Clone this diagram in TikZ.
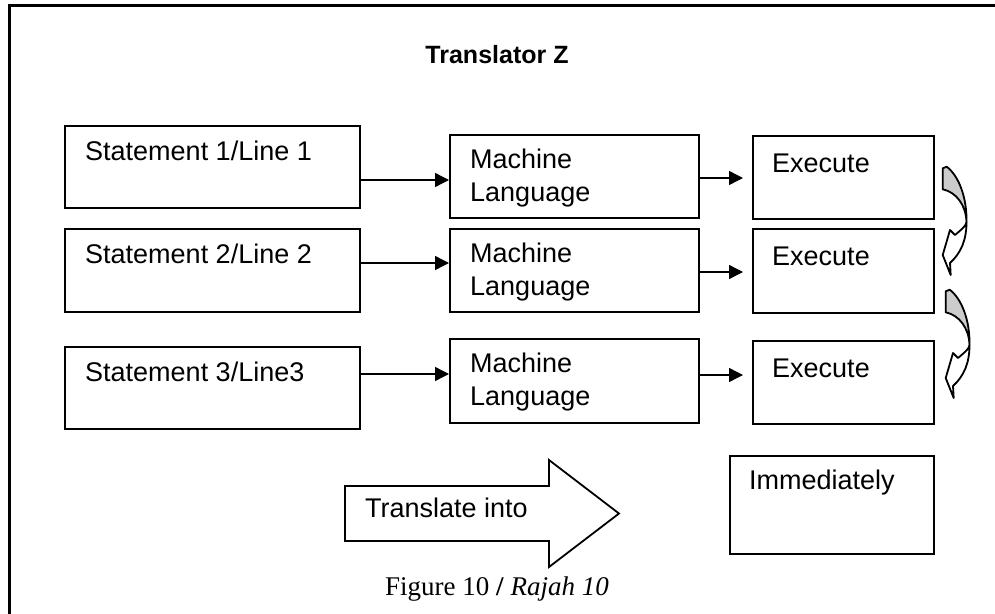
\documentclass[tikz,border=0pt]{standalone}
\usepackage{fontspec}
\setmainfont{Liberation Sans}
\newfontfamily\capfont{Liberation Serif}
\usetikzlibrary{arrows.meta,calc}
\begin{document}
\begin{tikzpicture}[x=1pt,y=-1pt,
  box/.style={draw,line width=2pt,rectangle,anchor=north west,inner sep=0pt},
  txt/.style={anchor=base west,inner sep=0pt,font=\fontsize{27}{33}\selectfont,align=left},
  arr/.style={line width=1.4pt,-{Triangle[length=14pt,width=14pt]}},
  curv/.style={line width=1.8pt,line join=round}]
\useasboundingbox (0,0) rectangle (995,613);
% outer frame
\draw[line width=3pt] (9,620) -- (9,5) -- (1000,5);
% title
\node[anchor=base,inner sep=0pt,font=\fontsize{25}{30}\selectfont\bfseries] (title) at (497,63) {Translator Z};
% statement boxes
\node[box,minimum width=295pt,minimum height=82pt] (S1) at (64,125) {};
\node[box,minimum width=295pt,minimum height=83pt] (S2) at (64,228) {};
\node[box,minimum width=295pt,minimum height=82pt] (S3) at (64,346) {};
\node[txt] at ([shift={(21,35)}]S1.north west) {Statement 1/Line 1};
\node[txt] at ([shift={(21,35)}]S2.north west) {Statement 2/Line 2};
\node[txt] at ([shift={(21,35)}]S3.north west) {Statement 3/Line3};
% machine language boxes
\node[box,minimum width=249pt,minimum height=83pt] (M1) at (449,134) {};
\node[box,minimum width=249pt,minimum height=83pt] (M2) at (449,228) {};
\node[box,minimum width=249pt,minimum height=84pt] (M3) at (449,338) {};
\node[txt] at ([shift={(21,67)}]M1.north west) {Machine\\Language};
\node[txt] at ([shift={(21,67)}]M2.north west) {Machine\\Language};
\node[txt] at ([shift={(21,67)}]M3.north west) {Machine\\Language};
% execute boxes
\node[box,minimum width=181pt,minimum height=83pt] (E1) at (752,135) {};
\node[box,minimum width=181pt,minimum height=84pt] (E2) at (752,228) {};
\node[box,minimum width=181pt,minimum height=83pt] (E3) at (752,340) {};
\node[txt] at ([shift={(20,37)}]E1.north west) {Execute};
\node[txt] at ([shift={(20,37)}]E2.north west) {Execute};
\node[txt] at ([shift={(20,37)}]E3.north west) {Execute};
% immediately box
\node[box,minimum width=204pt,minimum height=98pt] (I) at (729,455) {};
\node[txt] at ([shift={(20,34)}]I.north west) {Immediately};
% connectors
\draw[arr] (S1.east |- 0,180) -- (M1.west |- 0,180);
\draw[arr] (S2.east |- 0,263) -- (M2.west |- 0,263);
\draw[arr] (S3.east |- 0,374) -- (M3.west |- 0,374);
\coordinate (t1) at ($(E1.west |- 0,178)+(-9,0)$);
\coordinate (t2) at ($(E2.west |- 0,272)+(-9,0)$);
\coordinate (t3) at ($(E3.west |- 0,375)+(-9,0)$);
\draw[arr] (M1.east |- 0,178) -- (t1);
\draw[arr] (M2.east |- 0,272) -- (t2);
\draw[arr] (M3.east |- 0,375) -- (t3);
% curved arrows
\foreach \dx/\dy in {0/0,3/123}{
\begin{scope}[shift={(\dx,\dy)}]
\draw[curv,fill=black!20] (946.7,166.7) -- (942.7,168.3) -- (942.7,189.3)
   .. controls (956,192) and (966,205) .. (966.5,222)
   .. controls (967,198) and (959,176) .. (946.7,166.7) -- cycle;
\draw[curv,fill=white] (966.5,222) .. controls (966.5,240) and (961,253) .. (950,263)
   -- (950.7,275) -- (942.7,255) -- (950,230) -- (955,235)
   .. controls (962,229) and (966,226) .. (966.5,222) -- cycle;
\end{scope}}
% block arrow
\draw[line width=1.8pt,line join=miter] (345,486) -- (549,486) -- (549,460) -- (619,513.5) -- (549,567) -- (549,541) -- (345,541) -- cycle;
\node[txt] (tr) at (365,517) {Translate into};
% caption
\node[anchor=base,inner sep=0pt,font=\capfont\fontsize{27}{30}\selectfont] (cap) at (497,595) {Figure 10 \textbf{/} \textit{Rajah 10}};
\end{tikzpicture}
\end{document}
